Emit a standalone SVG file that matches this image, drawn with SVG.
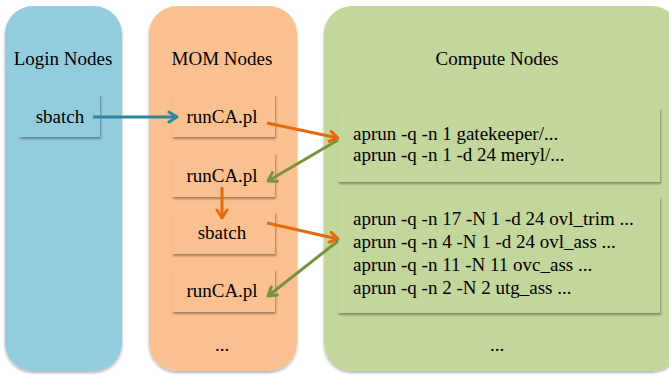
<svg xmlns="http://www.w3.org/2000/svg" width="669" height="375" viewBox="0 0 669 375">
<defs>
<filter id="sh" x="-10%" y="-10%" width="125%" height="130%">
<feDropShadow dx="1" dy="2" stdDeviation="1.2" flood-color="#000" flood-opacity="0.35"/>
</filter>
<filter id="psh" x="-10%" y="-5%" width="120%" height="110%">
<feDropShadow dx="0" dy="2" stdDeviation="1.5" flood-color="#000" flood-opacity="0.3"/>
</filter>
<marker id="mb" markerUnits="userSpaceOnUse" markerWidth="14" markerHeight="14" refX="10" refY="6" orient="auto" viewBox="0 0 14 12">
<path d="M2,1 L10,6 L2,11" fill="none" stroke="#31859C" stroke-width="3" stroke-linecap="round" stroke-linejoin="round"/>
</marker>
<marker id="mo" markerUnits="userSpaceOnUse" markerWidth="14" markerHeight="14" refX="10" refY="6" orient="auto" viewBox="0 0 14 12">
<path d="M2,1 L10,6 L2,11" fill="none" stroke="#E46C0A" stroke-width="3" stroke-linecap="round" stroke-linejoin="round"/>
</marker>
<marker id="mg" markerUnits="userSpaceOnUse" markerWidth="14" markerHeight="14" refX="10" refY="6" orient="auto" viewBox="0 0 14 12">
<path d="M2,1 L10,6 L2,11" fill="none" stroke="#77933C" stroke-width="3" stroke-linecap="round" stroke-linejoin="round"/>
</marker>
</defs>
<style>
text { font-family: "Liberation Serif", "Times New Roman", serif; font-size: 19px; fill: #000; }
.c { text-anchor: middle; }
.blue { fill: #93CDDD; }
.orange { fill: #FAC090; }
.green { fill: #C3D69B; }
.box { filter: url(#sh); }
.panel { filter: url(#psh); }
.lb { stroke: #31859C; stroke-width: 3; fill: none; marker-end: url(#mb); }
.lo { stroke: #E46C0A; stroke-width: 3; fill: none; marker-end: url(#mo); }
.lg { stroke: #77933C; stroke-width: 3; fill: none; marker-end: url(#mg); }
</style>
<rect width="669" height="375" fill="#fff"/>
<g id="login-panel">
<rect class="blue panel" x="5" y="6" width="117" height="365" rx="28"/>
<text class="c" x="63" y="65">Login Nodes</text>
</g>
<g id="mom-panel">
<rect class="orange panel" x="149" y="6" width="148" height="365" rx="28"/>
<text class="c" x="222" y="65">MOM Nodes</text>
<text class="c" x="222" y="351">...</text>
</g>
<g id="compute-panel">
<rect class="green panel" x="324" y="6" width="356" height="365" rx="28"/>
<text class="c" x="497" y="65">Compute Nodes</text>
<text class="c" x="497" y="351">...</text>
</g>
<g id="login-sbatch">
<rect class="blue box" x="19" y="94" width="81" height="43"/>
<text class="c" x="60" y="123">sbatch</text>
</g>
<g id="mom-runca1">
<rect class="orange box" x="172" y="94" width="103" height="43"/>
<text class="c" x="222" y="123">runCA.pl</text>
</g>
<g id="mom-runca2">
<rect class="orange box" x="172" y="153" width="103" height="44"/>
<text class="c" x="222" y="182">runCA.pl</text>
</g>
<g id="mom-sbatch">
<rect class="orange box" x="172" y="211" width="103" height="43"/>
<text class="c" x="222" y="239">sbatch</text>
</g>
<g id="mom-runca3">
<rect class="orange box" x="172" y="269" width="103" height="43"/>
<text class="c" x="222" y="297">runCA.pl</text>
</g>
<g id="compute-box1">
<rect class="green box" x="338" y="108" width="322" height="74"/>
<text x="353" y="140">aprun -q -n 1 gatekeeper/...</text>
<text x="353" y="161">aprun -q -n 1 -d 24 meryl/...</text>
</g>
<g id="compute-box2">
<rect class="green box" x="338" y="197" width="322" height="116"/>
<text x="353" y="225">aprun -q -n 17 -N 1 -d 24 ovl_trim ...</text>
<text x="353" y="248">aprun -q -n 4 -N 1 -d 24 ovl_ass ...</text>
<text x="353" y="271">aprun -q -n 11 -N 11 ovc_ass ...</text>
<text x="353" y="294">aprun -q -n 2 -N 2 utg_ass ...</text>
</g>
<g id="connectors">
<line class="lb" x1="93" y1="117" x2="177" y2="117"/>
<line class="lo" x1="267" y1="123" x2="338" y2="138"/>
<line class="lg" x1="338" y1="140" x2="268" y2="181"/>
<line class="lo" x1="222" y1="187" x2="222" y2="218"/>
<line class="lo" x1="267" y1="223" x2="338" y2="239"/>
<line class="lg" x1="338" y1="241" x2="268" y2="296"/>
</g>
</svg>
